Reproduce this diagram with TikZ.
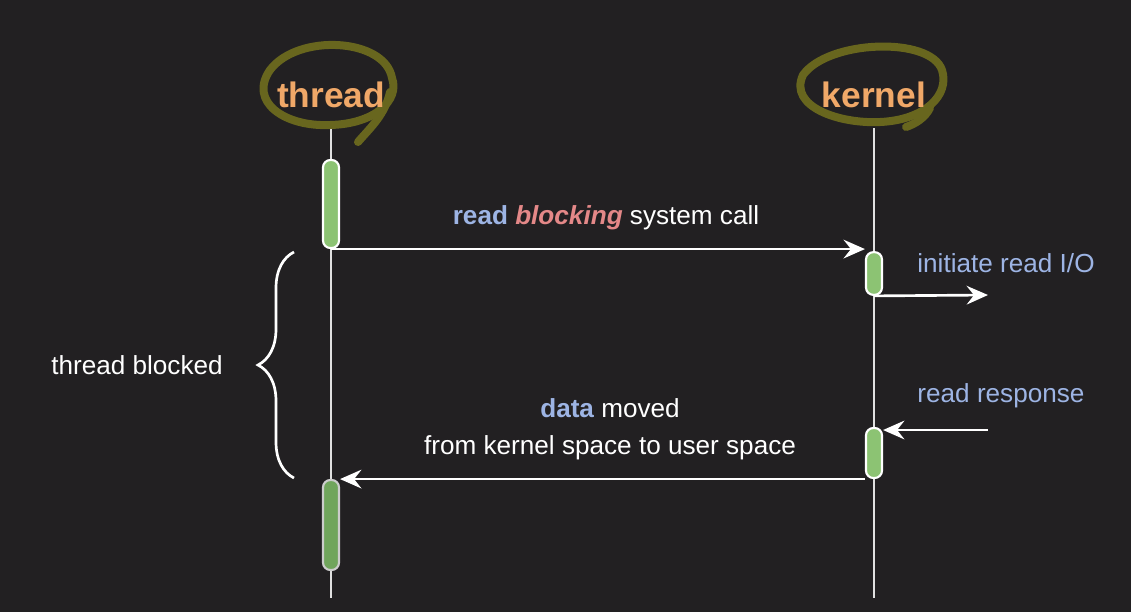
\documentclass[tikz,border=0pt]{standalone}
\usepackage{fontspec}
\setmainfont{Liberation Sans}
\usetikzlibrary{arrows.meta,decorations.pathreplacing}

\definecolor{bgdark}{RGB}{34,32,34}
\definecolor{hdrorange}{RGB}{240,168,104}
\definecolor{penolive}{RGB}{104,102,30}
\definecolor{barfill}{RGB}{140,195,115}
\definecolor{barfilldark}{RGB}{112,165,92}
\definecolor{txtblue}{RGB}{157,180,228}
\definecolor{txtpink}{RGB}{228,136,136}

\tikzset{
  lifeline/.style={draw=white!88!black, line width=1.6pt},
  msg/.style={draw=white, line width=2pt, -{Stealth[length=16pt,width=14pt,inset=5.5pt]}},
  actbar/.style={draw=white, line width=1.6pt, fill=barfill, rounded corners=5.5pt,
    minimum width=12pt, inner sep=0pt},
  hdr/.style={text=hdrorange, font=\bfseries\fontsize{26.5}{30}\selectfont},
  lbl/.style={text=white, font=\fontsize{19.6}{23}\selectfont, inner sep=0pt},
  pen/.style={draw=penolive, line width=6pt, line cap=round, line join=round},
}

\begin{document}
\begin{tikzpicture}[x=0.75pt,y=-0.75pt]

  \fill[bgdark] (0,0) rectangle (1131,612);
  \useasboundingbox (0,0) rectangle (1131,612);

  % lifelines
  \coordinate (thread top) at (331,128);
  \coordinate (thread end) at (331,598);
  \coordinate (kernel top) at (874,128);
  \coordinate (kernel end) at (874,598);
  \draw[lifeline] (thread top) -- (thread end);
  \draw[lifeline] (kernel top) -- (kernel end);

  % hand-drawn circles round the headers
  \draw[pen] (392,78) .. controls (385,38) and (298,33) .. (270,70)
    .. controls (248,102) and (285,127) .. (330,125)
    .. controls (375,124) and (400,100) .. (392,78);
  \draw[pen] (390,92) .. controls (385,115) and (370,128) .. (358,142);
  \draw[pen] (942,70) .. controls (930,36) and (828,40) .. (803,75)
    .. controls (788,107) and (840,124) .. (880,122)
    .. controls (925,120) and (950,95) .. (942,70);
  \draw[pen] (930,108) .. controls (925,118) and (915,124) .. (906,127);

  \node[hdr] (thread) at (331,95) {thread};
  \node[hdr] (kernel) at (874,95) {kernel};

  % activation bars
  \node[actbar, minimum height=66pt] (t1) at (331,204) {};
  \node[actbar, minimum height=32pt] (k1) at (874,273.5) {};
  \node[actbar, minimum height=37.5pt] (k2) at (874,453) {};
  \node[actbar, minimum height=67.5pt, draw=white!80!black, fill=barfilldark] (t2) at (331,525) {};

  % messages
  \draw[msg] (t1.south) -- (t1.south -| k1.west);
  \node[lbl] (call) at (606,218) {\textcolor{txtblue}{\bfseries read}
    \textcolor{txtpink}{\bfseries\itshape blocking} system call};

  \coordinate (io out) at (988,295);
  \draw[msg] (k1.south) -- (io out);
  \node[lbl, text=txtblue] (initiate) at (1006,263) {initiate read I/O};

  \coordinate (io in) at (988,430);
  \draw[msg] (io in) -- (io in -| k2.east);
  \node[lbl, text=txtblue] (response) at (1001,396) {read response};

  \draw[msg] (k2.south west) -- (k2.south west -| t2.east);
  \node[lbl, align=center] (moved) at (610,429)
    {\textcolor{txtblue}{\bfseries data} moved\\[5pt] from kernel space to user space};

  % blocked span
  \coordinate (block low) at (294,478);
  \coordinate (block high) at (294,252);
  \draw[white, line width=2pt, decorate, decoration={brace, amplitude=27pt}]
    (block low) -- (block high);
  \node[lbl] (blocked) at (137,365) {thread blocked};

\end{tikzpicture}
\end{document}
